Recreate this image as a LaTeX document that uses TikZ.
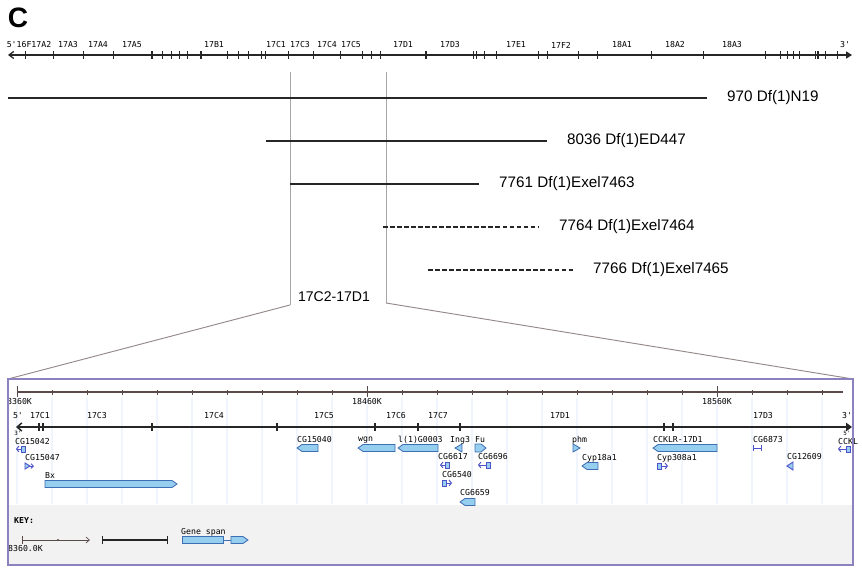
\documentclass[tikz,border=0pt]{standalone}
\usepackage{fontspec}
\setmainfont{Liberation Sans}
\newfontfamily\trackfont{DejaVu Sans Mono}
\usepackage{xcolor}
\usepackage{tikz}
\usetikzlibrary{arrows.meta, positioning}
\definecolor{genefill}{RGB}{150,206,240}
\definecolor{geneedge}{RGB}{62,110,180}
\definecolor{markblue}{RGB}{78,82,200}
\definecolor{boxline}{RGB}{140,130,192}
\definecolor{zoomgray}{RGB}{150,136,136}
\definecolor{keygray}{RGB}{242,242,242}
\definecolor{gridblue}{RGB}{240,244,252}
\definecolor{rulerbrown}{RGB}{90,74,74}

\tikzset{
    bandlabel/.style={font=\trackfont\fontsize{7}{8}\selectfont, inner sep=0pt},
    genelabel/.style={bandlabel, anchor=west},
    dflabel/.style={font=\fontsize{13}{15}\selectfont, anchor=west, inner sep=0pt},
    dfline/.style={line width=1.2pt, black!85, shorten >=17pt},
    dfdash/.style={dfline, dash pattern=on 4pt off 2pt},
    cutline/.style={gray!70, line width=0.8pt},
    zoomline/.style={zoomgray, line width=0.8pt},
    axisline/.style={line width=1.1pt, black!85},
    genebox/.style={draw=geneedge, fill=genefill, line width=0.7pt},
    marker/.style={draw=markblue, line width=0.8pt}
}

\begin{document}
\begin{tikzpicture}[x=0.03cm, y=-0.03cm]

    \useasboundingbox (0,0) rectangle (862,569);

    \node[font=\fontsize{24}{26}\selectfont\bfseries] (panelC) at (18,18) {C};

    % chromosome arm X, 16F-18B
    \coordinate (chrl) at (8,55);
    \coordinate (chrr) at (852,55);
    \draw[axisline, {Straight Barb[length=4pt,width=6pt]}-{Triangle[length=5pt,width=6pt]}] (chrl) -- (chrr);
    \foreach \x in {25,53,83,113,162,171,179,187,227,238,248,261,265,288,313,340,362,371,380,
                    473,476,484,496,538,547,578,597,651,703,765,780,787,793,799,815,825,837}
        \draw[black!85, line width=0.8pt] (\x,51) -- (\x,59);
    \foreach \x in {152,201,426,818}
        \draw[black!85, line width=2pt] (\x,51) -- (\x,59);
    \foreach \x/\t in {29/5'16F17A2, 68/17A3, 98/17A4, 132/17A5, 214/17B1, 276/17C1, 300/17C3,
                       327/17C4, 351/17C5, 403/17D1, 450/17D3, 516/17E1, 561/17F2, 622/18A1,
                       675/18A2, 732/18A3, 845/3'}
        \node[bandlabel] (top\x) at (\x,45) {\t};

    % region borders
    \coordinate (cutla) at (290,72);
    \coordinate (cutlb) at (290,305);
    \coordinate (cutra) at (386,72);
    \coordinate (cutrb) at (386,303);
    \draw[cutline] (cutla) -- (cutlb);
    \draw[cutline] (cutra) -- (cutrb);

    % deficiencies
    \node[dflabel] (dfN19) at (727,98) {970 Df(1)N19};
    \node[dflabel] (dfED447) at (567,141) {8036 Df(1)ED447};
    \node[dflabel] (dfExelA) at (499,184) {7761 Df(1)Exel7463};
    \node[dflabel] (dfExelB) at (559,227) {7764 Df(1)Exel7464};
    \node[dflabel] (dfExelC) at (593,270) {7766 Df(1)Exel7465};
    \coordinate (sN19) at (8,98);
    \coordinate (sED447) at (266,141);
    \coordinate (sExelA) at (290,184);
    \coordinate (sExelB) at (383,227);
    \coordinate (sExelC) at (428,270);
    \draw[dfline] (sN19) -- (dfN19.west);
    \draw[dfline] (sED447) -- (dfED447.west);
    \draw[dfline] (sExelA) -- (dfExelA.west);
    \draw[dfdash] (sExelB) -- (dfExelB.west);
    \draw[dfdash] (sExelC) -- (dfExelC.west);

    \node[font=\fontsize{12}{14}\selectfont] (region) at (334,297) {17C2-17D1};

    % zoomed panel
    \coordinate (panelnw) at (8,379);
    \coordinate (panelne) at (853,379);
    \draw[zoomline] (cutlb) -- (panelnw);
    \draw[zoomline] (cutrb) -- (panelne);

    \foreach \k in {0,...,23}
        \draw[gridblue, line width=1pt] (17+35*\k,398) -- (17+35*\k,504);
    \fill[keygray] (9,505) rectangle (852,564);

    % ruler
    \draw[rulerbrown, line width=0.9pt] (17,392) -- (843,392);
    \foreach \k in {0,...,23}
        \draw[rulerbrown, line width=0.6pt] (17+35*\k,390) -- (17+35*\k,395);
    \foreach \k in {0,10,20}
        \draw[rulerbrown, line width=0.8pt] (17+35*\k,386) -- (17+35*\k,397);
    \node[genelabel] (kA) at (7,402) {8360K};
    \node[bandlabel] (kB) at (367,402) {18460K};
    \node[bandlabel] (kC) at (717,402) {18560K};

    % cytology track
    \coordinate (cytl) at (16,427);
    \coordinate (cytr) at (852,427);
    \draw[axisline, line width=1.3pt, {Straight Barb[length=4pt,width=7pt]}-{Triangle[length=5pt,width=7pt]}] (cytl) -- (cytr);
    \foreach \x in {39,43,152,277,375,418,460,664,673}
        \draw[black!85, line width=1pt] (\x,423) -- (\x,431);
    \foreach \x/\t in {18/5', 40/17C1, 97/17C3, 214/17C4, 324/17C5, 396/17C6, 438/17C7,
                       560/17D1, 763/17D3, 847/3'}
        \node[bandlabel] (cb\x) at (\x,416) {\t};
    \node[bandlabel, font=\trackfont\fontsize{5}{5}\selectfont] (strl) at (18,433.5) {3'};
    \node[bandlabel, font=\trackfont\fontsize{5}{5}\selectfont] (strr) at (847,433.5) {5'};

    % genes
    \foreach \x/\y/\t in {15/442/CG15042, 25/458/CG15047, 45/476/Bx, 297/440/CG15040,
                          358/440/wgn, 398/440/l(1)G0003, 450/440/Ing3, 475/440/Fu,
                          438/457/CG6617, 478/457/CG6696, 442/475/CG6540, 460/493/CG6659,
                          572/440/phm, 582/458/Cyp18a1, 653/440/CCKLR-17D1, 657/458/Cyp308a1,
                          753/440/CG6873, 787/457/CG12609, 838/442/CCKL}
        \node[genelabel] (g\x) at (\x,\y) {\t};

    \foreach \xa/\xb/\y in {297/318/448, 358/395/448, 398/438/448, 653/717/448, 582/598/466, 460/475/502}
        \draw[genebox] (\xa,\y) -- (\xa+5,\y-3.5) -- (\xb,\y-3.5) -- (\xb,\y+3.5) -- (\xa+5,\y+3.5) -- cycle;
    \draw[genebox] (45,480.5) -- (172,480.5) -- (177,484) -- (172,487.5) -- (45,487.5) -- cycle;
    \draw[genebox] (475,444) -- (481,444) -- (486,448) -- (481,452) -- (475,452) -- cycle;
    \draw[genebox] (455,448) -- (462,444) -- (462,452) -- cycle;
    \draw[genebox] (573,444) -- (580,448) -- (573,452) -- cycle;
    \draw[marker, fill=genefill] (787,466) -- (793,462) -- (793,470) -- cycle;
    \draw[marker, fill=genefill] (25,463) -- (30,466) -- (25,469) -- cycle;
    \draw[marker, -{Straight Barb[length=2pt,width=4pt]}] (30,466) -- (34,466);

    \foreach \xa/\xb/\y in {16/25/449, 440/449/465, 478/490/465, 838/850/449}
    {
        \draw[marker, -{Straight Barb[length=2pt,width=5pt]}] (\xb-4,\y) -- (\xa,\y);
        \draw[marker, fill=genefill] (\xb-4,\y-3) rectangle (\xb,\y+3);
    }
    \foreach \xa/\xb/\y in {442/452/483, 657/668/466}
    {
        \draw[marker, -{Straight Barb[length=2pt,width=5pt]}] (\xa+4,\y) -- (\xb,\y);
        \draw[marker, fill=genefill] (\xa,\y-3) rectangle (\xa+4,\y+3);
    }
    \draw[marker, {Bar[width=5pt]}-{Bar[width=5pt]}] (753,448) -- (762,448);

    % key
    \node[genelabel, font=\trackfont\bfseries\fontsize{7}{8}\selectfont] (key) at (14,521) {KEY:};
    \draw[rulerbrown, line width=0.6pt, -{Straight Barb[length=3pt,width=5pt]}] (22,540) -- (90,540);
    \draw[rulerbrown, line width=0.6pt] (22,536) -- (22,544);
    \fill[rulerbrown] (58,540) circle (1.2);
    \node[genelabel] (keyscale) at (8,549) {8360.0K};
    \draw[black!85, line width=1.1pt, {Bar[width=6pt]}-{Bar[width=6pt]}] (102,540) -- (168,540);
    \node[genelabel] (span) at (181,532) {Gene span};
    \draw[genebox] (182,536.5) rectangle (223,543.5);
    \draw[geneedge, line width=0.7pt] (223,540) -- (231,540);
    \draw[genebox] (231,536.5) -- (243,536.5) -- (248,540) -- (243,543.5) -- (231,543.5) -- cycle;

    \draw[boxline, line width=1pt] (8,379) rectangle (853,565);

\end{tikzpicture}
\end{document}
